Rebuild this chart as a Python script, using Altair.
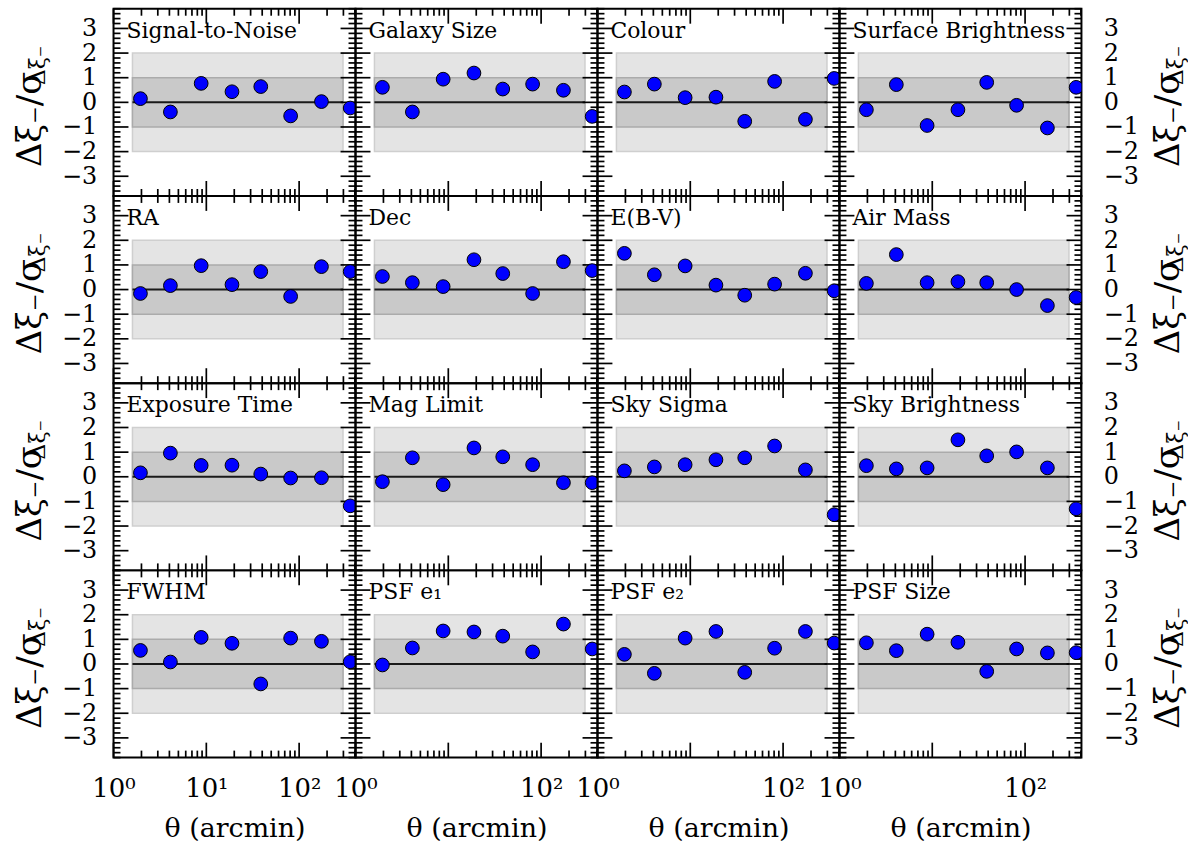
import altair as alt
import pandas as pd

FONT = "DejaVu Serif"
W, H = 243, 188

# angular bins (arcmin)
theta = [1.95, 4.1, 8.8, 18.9, 38.6, 81, 174, 355]
band_theta = [1.6, 297]

names = [
    ["Signal-to-Noise", "Galaxy Size", "Colour", "Surface Brightness"],
    ["RA", "Dec", "E(B-V)", "Air Mass"],
    ["Exposure Time", "Mag Limit", "Sky Sigma", "Sky Brightness"],
    ["FWHM", "PSF e\u2081", "PSF e\u2082", "PSF Size"],
]

signal_to_noise = [0.15, -0.39, 0.77, 0.43, 0.64, -0.55, 0.03, -0.23]
galaxy_size = [0.61, -0.39, 0.94, 1.19, 0.54, 0.74, 0.49, -0.57]
colour = [0.42, 0.74, 0.19, 0.21, -0.77, 0.85, -0.69, 0.97]
surface_brightness = [-0.30, 0.72, -0.94, -0.30, 0.81, -0.12, -1.04, 0.61]
ra = [-0.16, 0.16, 0.97, 0.20, 0.73, -0.28, 0.93, 0.73]
dec = [0.53, 0.28, 0.12, 1.21, 0.65, -0.16, 1.13, 0.77]
ebv = [1.47, 0.60, 0.96, 0.18, -0.23, 0.22, 0.66, -0.05]
air_mass = [0.25, 1.42, 0.28, 0.32, 0.28, 0.0, -0.65, -0.32]
exposure_time = [0.16, 0.96, 0.46, 0.47, 0.11, -0.05, -0.04, -1.18]
mag_limit = [-0.20, 0.77, -0.32, 1.17, 0.81, 0.49, -0.24, -0.24]
sky_sigma = [0.24, 0.40, 0.49, 0.69, 0.77, 1.25, 0.28, -1.54]
sky_brightness = [0.45, 0.32, 0.36, 1.50, 0.85, 1.01, 0.36, -1.30]
fwhm = [0.55, 0.08, 1.08, 0.84, -0.81, 1.05, 0.92, 0.09]
psf_e1 = [-0.04, 0.65, 1.34, 1.30, 1.13, 0.49, 1.62, 0.61]
psf_e2 = [0.39, -0.38, 1.05, 1.32, -0.34, 0.64, 1.32, 0.85]
psf_size = [0.86, 0.54, 1.21, 0.88, -0.30, 0.61, 0.45, 0.46]

values = [
    [signal_to_noise, galaxy_size, colour, surface_brightness],
    [ra, dec, ebv, air_mass],
    [exposure_time, mag_limit, sky_sigma, sky_brightness],
    [fwhm, psf_e1, psf_e2, psf_size],
]

y_major = [-3, -2, -1, 0, 1, 2, 3]
y_minor = [-3.8, -3.6, -3.4, -3.2, -2.8, -2.6, -2.4, -2.2, -1.8, -1.6, -1.4, -1.2,
           -0.8, -0.6, -0.4, -0.2, 0.2, 0.4, 0.6, 0.8, 1.2, 1.4, 1.6, 1.8,
           2.2, 2.4, 2.6, 2.8, 3.2, 3.4, 3.6, 3.8]
x_major = [1, 10, 100]
x_minor = [2, 3, 4, 5, 6, 7, 8, 9, 20, 30, 40, 50, 60, 70, 80, 90, 200, 300, 400]
x_labels = [[1, 10, 100], [1, 100], [1, 100], [1, 100]]

XS = alt.Scale(type="log", domain=[1, 405], nice=False)
YS = alt.Scale(domain=[-3.8, 3.8], nice=False, zero=False)
MAJ, MIN = 15, 7
TICKW = 1.7


def x_axis(r, c):
    if r != 3:
        return None
    return alt.Axis(values=x_labels[c], ticks=False, tickSize=0, domain=False, grid=False,
                    labelExpr="datum.value == 1 ? '10\u2070' : datum.value == 10 ? '10\u00b9' : '10\u00b2'",
                    labelFont=FONT, labelFontSize=26, labelColor="black", labelPadding=18,
                    labelFlush=False, labelOverlap=False,
                    title="\u03b8 (arcmin)", titleFont=FONT, titleFontSize=27,
                    titleFontWeight="normal", titleColor="black", titlePadding=14)


def y_axis(r, c):
    if c not in (0, 3):
        return None
    return alt.Axis(values=y_major, orient="left" if c == 0 else "right", ticks=False, tickSize=0,
                    domain=False, grid=False, format="d", labelFont=FONT, labelFontSize=24,
                    labelColor="black", labelPadding=17 if c == 0 else 22,
                    labelFlush=False, labelOverlap=False, title=None)


def panel(r, c):
    name = names[r][c]
    xa, ya = x_axis(r, c), y_axis(r, c)

    def X(f):
        return alt.X(f, type="quantitative", scale=XS, axis=xa)

    def Y(f):
        return alt.Y(f, type="quantitative", scale=YS, axis=ya)

    pts = pd.DataFrame({"theta": theta, "v": values[r][c]})
    band = pd.DataFrame({"lo": [band_theta[0]], "hi": [band_theta[1]],
                         "y2lo": [-2], "y2hi": [2], "y1lo": [-1], "y1hi": [1], "zero": [0]})
    ymaj = pd.DataFrame({"y": y_major})
    ymin = pd.DataFrame({"y": y_minor})
    xmaj = pd.DataFrame({"x": x_major})
    xmin = pd.DataFrame({"x": x_minor})
    lab = pd.DataFrame({"name": [name]})

    layers = []
    layers.append(alt.Chart(band).mark_rect(fill="#e4e4e4", stroke="#cfcfcf", strokeWidth=1.5).encode(
        x=X("lo"), x2="hi", y=Y("y2lo"), y2="y2hi"))
    layers.append(alt.Chart(band).mark_rect(fill="#c9c9c9", stroke="#ababab", strokeWidth=1.5).encode(
        x=X("lo"), x2="hi", y=Y("y1lo"), y2="y1hi"))
    layers.append(alt.Chart(band).mark_rule(color="#1a1a1a", strokeWidth=2).encode(
        x=X("lo"), x2="hi", y=Y("zero")))
    # ticks (inward, on all four sides)
    for df, L in ((ymaj, MAJ), (ymin, MIN)):
        layers.append(alt.Chart(df).mark_rule(color="black", strokeWidth=TICKW).encode(
            y=Y("y"), x=alt.value(0), x2=alt.value(L)))
        layers.append(alt.Chart(df).mark_rule(color="black", strokeWidth=TICKW).encode(
            y=Y("y"), x=alt.value(W - L), x2=alt.value(W)))
    for df, L in ((xmaj, MAJ), (xmin, MIN)):
        layers.append(alt.Chart(df).mark_rule(color="black", strokeWidth=TICKW).encode(
            x=X("x"), y=alt.value(0), y2=alt.value(L)))
        layers.append(alt.Chart(df).mark_rule(color="black", strokeWidth=TICKW).encode(
            x=X("x"), y=alt.value(H - L), y2=alt.value(H)))
    layers.append(alt.Chart(pts).mark_circle(size=190, color="#0000ff", opacity=1, stroke="black",
                                             strokeWidth=1, clip=True).encode(
        x=X("theta"), y=Y("v")))
    layers.append(alt.Chart(lab).mark_text(font=FONT, fontSize=22, align="left", baseline="alphabetic",
                                           color="black").encode(
        text="name:N", x=alt.value(13), y=alt.value(29)))
    if c in (0, 3):
        bx = -73 if c == 0 else W + 98
        ttl = pd.DataFrame({"main": ["\u0394\u03be\u208b/\u03c3"], "sub": ["\u0394\u03be\u208b"]})
        layers.append(alt.Chart(ttl).mark_text(font=FONT, fontSize=34, align="left", baseline="alphabetic",
                                               angle=270, color="black").encode(
            text="main:N", x=alt.value(bx), y=alt.value(159)))
        layers.append(alt.Chart(ttl).mark_text(font=FONT, fontSize=22, align="right", baseline="alphabetic",
                                               angle=270, color="black").encode(
            text="sub:N", x=alt.value(bx + 4), y=alt.value(37)))
    return alt.layer(*layers).properties(width=W, height=H)


panels = [panel(r, c) for r in range(4) for c in range(4)]
chart = alt.concat(*panels, columns=4, spacing=0, bounds="flush").properties(
    padding={"left": 13, "top": 5, "right": 0, "bottom": 0},
    background="white",
).configure_view(stroke="black", strokeWidth=2)

chart.save("out.html", embed_options={"renderer": "svg", "actions": False})
